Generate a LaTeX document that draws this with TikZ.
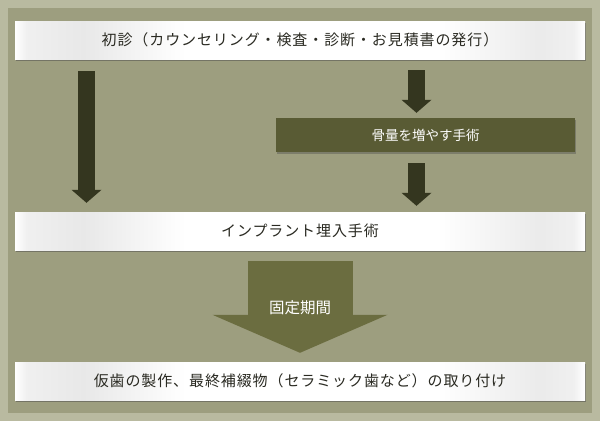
\documentclass[tikz,border=0pt]{standalone}
\usepackage{fontspec}
\setmainfont{Noto Sans CJK JP}
\newfontfamily\spacedjp[LetterSpace=6]{Noto Sans CJK JP}
\usetikzlibrary{arrows.meta,shadows}
\definecolor{outerbg}{HTML}{B9BAA0}
\definecolor{panelbg}{HTML}{9D9E7F}
\definecolor{darkarrow}{HTML}{34361F}
\definecolor{bonebox}{HTML}{595B34}
\definecolor{fixarrow}{HTML}{6B6D40}
\definecolor{textdark}{HTML}{2A2A22}
\pgfdeclarehorizontalshading{whitebar}{100bp}{color(0bp)=(white); color(25bp)=(white);
  color(26bp)=(black!6); color(31bp)=(black!9); color(40bp)=(white); color(62bp)=(white);
  color(71bp)=(black!8); color(74bp)=(black!6); color(75bp)=(white); color(100bp)=(white)}
\begin{document}
\begin{tikzpicture}
    [
    x=1pt,y=-1pt,
    whitebox/.style={rectangle,shading=whitebar,inner sep=0pt,minimum width=570pt,minimum height=38pt,
      text=textdark,font=\spacedjp\fontsize{15}{18}\selectfont,
      drop shadow={shadow xshift=1pt,shadow yshift=-2pt,fill=black!70,opacity=0.5}},
    darkbox/.style={rectangle,fill=bonebox,inner sep=0pt,minimum width=299pt,minimum height=34pt,
      text=white,font=\fontsize{13.5}{16}\selectfont,
      drop shadow={shadow xshift=1pt,shadow yshift=-1.5pt,fill=black!70,opacity=0.4}},
    thinarrow/.style={draw=darkarrow,line width=17pt,-{Triangle[width=30pt,length=13pt,line width=0pt]}},
    bigarrow/.style={draw=fixarrow,line width=105pt,-{Triangle[width=175pt,length=38pt,line width=0pt]}}
    ]
    % background and panel
    \fill [outerbg] (0,0) rectangle (600,421);
    \fill [panelbg] (8,8) rectangle (592,413);
    \useasboundingbox (0,0) rectangle (600,421);
    \node (first) at (300,40) [whitebox] {初診（カウンセリング・検査・診断・お見積書の発行）};
    \node (bone) at (425.5,135) [darkbox] {骨量を増やす手術};
    \node (implant) at (300,231) [whitebox] {インプラント埋入手術};
    \node (final) at (300,381) [whitebox] {仮歯の製作、最終補綴物（セラミック歯など）の取り付け};
    \coordinate (lx) at (86.5,0);
    \coordinate (rx) at (416.5,0);
    \draw [thinarrow,shorten <=12pt,shorten >=9pt] (first.south -| lx) to (implant.north -| lx);
    \draw [thinarrow,shorten <=11pt,shorten >=5pt] (first.south -| rx) to (bone.north -| rx);
    \draw [thinarrow,shorten <=11pt,shorten >=6pt] (bone.south -| rx) to (implant.north -| rx);
    \draw [bigarrow,shorten <=11pt,shorten >=9pt] (implant.south) to
      node [text=white,font=\fontsize{15.5}{18}\selectfont,yshift=-2pt] (fixlabel) {固定期間} (final.north);
\end{tikzpicture}
\end{document}
